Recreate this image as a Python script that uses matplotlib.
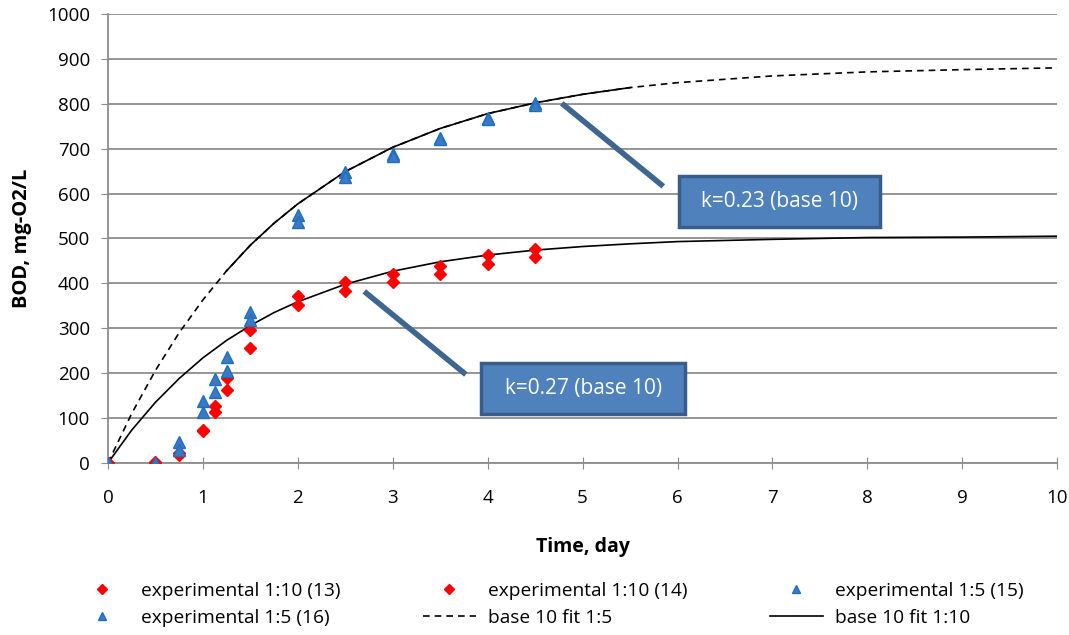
import matplotlib.pyplot as plt
from matplotlib.patches import Rectangle

plt.rcParams['font.family'] = ['Open Sans', 'DejaVu Sans']

# measured BOD, mg-O2/L
t_exp = [0, 0.5, 0.75, 1, 1.125, 1.25, 1.5, 2, 2.5, 3, 3.5, 4, 4.5]
bod_13 = [0, 2, 18, 73, 126, 190, 297, 371, 404, 420, 439, 463, 477]
bod_14 = [0, 0, 22, 70, 113, 163, 257, 352, 382, 402, 420, 442, 459]
bod_15 = [0, 0, 47, 139, 188, 237, 336, 553, 648, 687, 724, 768, 801]
bod_16 = [0, 0, 29, 113, 157, 205, 319, 536, 636, 684, 722, 766, 798]

# fitted curves
t_fit = [0, 0.25, 0.5, 0.75, 1, 1.25, 1.5, 1.75, 2, 2.5, 3, 3.5, 4, 4.5,
         5, 5.5, 6, 7, 8, 9, 10]
fit_15 = [0, 110, 206, 290, 363, 428, 485, 534, 577, 649, 703, 745, 778, 802,
          821, 836, 847, 862, 871, 876, 880]
fit_110 = [0, 73, 135, 188, 234, 273, 306, 335, 359, 398, 427, 448, 463, 474,
           482, 488, 493, 498, 502, 503, 505]

labels = ['experimental 1:10 (13)', 'experimental 1:10 (14)',
          'experimental 1:5 (15)', 'experimental 1:5 (16)',
          'base 10 fit 1:5', 'base 10 fit 1:10']
k_notes = ['k=0.23 (base 10)', 'k=0.27 (base 10)']

fig = plt.figure(figsize=(10.69, 6.35), dpi=100)
ax = fig.add_axes([0.101, 0.271, 0.888, 0.707])

red = '#ff0000'
blue = '#3b7ac2'
edge = '#1f6fc0'

h13, = ax.plot(t_exp, bod_13, 'D', ms=6.3, color=red, mec=red, ls='none', zorder=4)
h14, = ax.plot(t_exp, bod_14, 'D', ms=6.3, color=red, mec=red, ls='none', zorder=4)
h15, = ax.plot(t_exp, bod_15, '^', ms=8, color=blue, mec=edge, ls='none', zorder=5)
h16, = ax.plot(t_exp, bod_16, '^', ms=8, color=blue, mec=edge, ls='none', zorder=5)

hf5, = ax.plot(t_fit, fit_15, color='black', lw=1.2, ls=(0, (4, 3)), zorder=3)
hf10, = ax.plot(t_fit, fit_110, color='black', lw=1.2, zorder=3)
# solid middle part of the 1:5 curve
seg = [i for i, t in enumerate(t_fit) if 1.25 <= t <= 5.5]
ax.plot([t_fit[i] for i in seg], [fit_15[i] for i in seg], color='black', lw=1.2, zorder=3)

ax.set_xlim(0, 10)
ax.set_ylim(0, 1000)
ax.set_xticks(range(0, 11))
ax.set_yticks(range(0, 1001, 100))
ax.yaxis.grid(True, color='#8c8c8c', lw=1.3)
ax.set_axisbelow(True)
for s in ['top', 'right']:
    ax.spines[s].set_visible(False)
for s in ['left', 'bottom']:
    ax.spines[s].set_color('#8c8c8c')
    ax.spines[s].set_linewidth(1.3)
ax.tick_params(axis='y', direction='out', length=5, color='#8c8c8c', labelsize=13.5, pad=8)
ax.tick_params(axis='x', direction='inout', length=9, color='#8c8c8c', labelsize=13.5, pad=14)

ax.set_xlabel('Time, day', fontweight='bold', fontsize=14)
ax.set_ylabel('BOD, mg-O2/L', fontweight='bold', fontsize=14.5)
ax.xaxis.set_label_coords(0.5, -0.165)
ax.yaxis.set_label_coords(-0.08, 0.5)

# k annotations: leader line + boxed label
lead = '#3f6591'
ax.plot([4.78, 5.85], [801, 616], color=lead, lw=4, solid_capstyle='butt', zorder=6)
ax.plot([2.7, 3.77], [382, 197], color=lead, lw=4, solid_capstyle='butt', zorder=6)
for (x0, y0, w, h), note in zip([(6.02, 525, 2.11, 115), (3.93, 110, 2.15, 113)], k_notes):
    ax.add_patch(Rectangle((x0, y0), w, h, fc='#4f81bd', ec='#385d8a', lw=2.5, zorder=7))
    ax.text(x0 + w / 2, y0 + h / 2, note, color='white', fontsize=15,
            ha='center', va='center', zorder=8)

handles = [h13, h16, h14, hf5, h15, hf10]
names = [labels[0], labels[3], labels[1], labels[4], labels[2], labels[5]]
fig.legend(handles, names, loc='center', bbox_to_anchor=(0.514, 0.048), ncol=3,
           frameon=False, fontsize=13.8, columnspacing=4.3, handlelength=2.8,
           handletextpad=0.6, labelspacing=0.45, markerscale=0.75)

fig.savefig('out.png', dpi=100)
